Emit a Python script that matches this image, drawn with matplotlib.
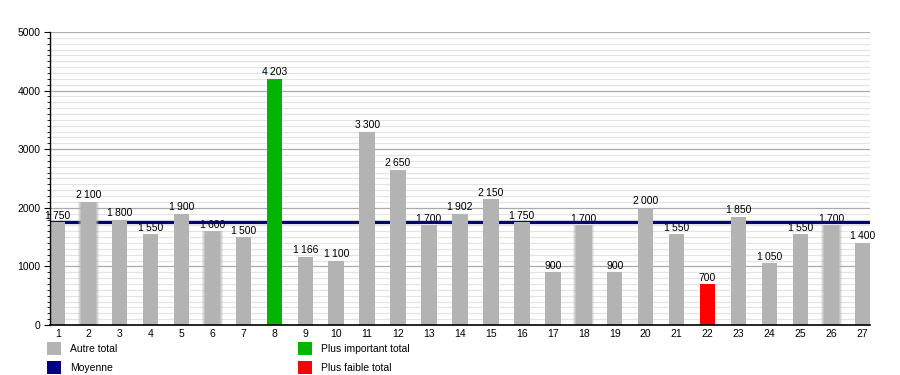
import matplotlib.pyplot as plt
import numpy as np
from matplotlib.patches import Rectangle

# totals per item
items = list(range(1, 28))
totals = [1750, 2100, 1800, 1550, 1900, 1600, 1500, 4203, 1166, 1100,
          3300, 2650, 1700, 1902, 2150, 1750, 900, 1700, 900, 2000,
          1550, 700, 1850, 1050, 1550, 1700, 1400]
# bars drawn with a soft (blurred) edge in the original
soft = [2, 6, 18, 26]

legend_labels = ["Autre total", "Moyenne", "Plus important total", "Plus faible total"]

grey = "#b3b3b3"
green = "#00b400"
red = "#ff0000"
navy = "#000080"

plt.rcParams['font.family'] = ['Liberation Sans', 'DejaVu Sans']

fig = plt.figure(figsize=(9, 3.75), dpi=100)
ax = fig.add_axes([50/900, 1-325/375, 820/900, 293/375])

vals = np.array(totals)
imax = int(np.argmax(vals))
imin = int(np.argmin(vals))
colors = [grey]*len(vals)
colors[imax] = green
colors[imin] = red

w = 0.5
for i, (x, v) in enumerate(zip(items, vals)):
    if x in soft:
        # fake blur: a few wider bars with low alpha
        for k, a in zip([0.18, 0.12, 0.06], [0.25, 0.35, 0.5]):
            ax.bar(x, v, width=w + k, color=grey, alpha=a, linewidth=0, zorder=3)
    ax.bar(x, v, width=w, color=colors[i], linewidth=0, zorder=3)
    lab = "{:,}".format(v).replace(",", "\u2009")
    ax.text(x, v + 25, lab, ha='center', va='bottom', fontsize=7.5, zorder=1.5)

# mean line sits behind the bars but over the labels
mean = vals.mean()
ax.axhline(mean, color=navy, linewidth=2.3, zorder=2)

ax.set_xlim(0.75, 27.25)
ax.set_ylim(0, 5000)
ax.set_yticks(range(0, 5001, 1000))
ax.set_yticks(range(0, 5001, 100), minor=True)
ax.grid(axis='y', which='major', color='#aaaaaa', linewidth=0.9, zorder=0)
ax.grid(axis='y', which='minor', color='#e4e4e4', linewidth=0.9, zorder=0)
ax.set_axisbelow(True)
ax.set_xticks(items)
ax.tick_params(axis='x', length=0, labelsize=7.5, pad=3)
ax.tick_params(axis='y', which='major', length=4, labelsize=7.5, pad=3)
ax.tick_params(axis='y', which='minor', length=2)
for s in ['top', 'right']:
    ax.spines[s].set_visible(False)
ax.spines['left'].set_linewidth(1)
ax.spines['bottom'].set_linewidth(1.2)
ax.spines['left'].set_zorder(5)
ax.spines['bottom'].set_zorder(5)

# legend below the chart
leg_pos = [(47, 342), (47, 361), (298, 342), (298, 361)]
leg_cols = [grey, navy, green, red]
for (px, py), c, t in zip(leg_pos, leg_cols, legend_labels):
    fig.patches.append(Rectangle((px/900, 1-(py+13)/375), 14/900, 13/375,
                                 transform=fig.transFigure, color=c, linewidth=0))
    fig.text((px+23)/900, 1-(py+7)/375, t, fontsize=7.5, va='center', ha='left')

fig.savefig("out.png", dpi=100, facecolor='white')
